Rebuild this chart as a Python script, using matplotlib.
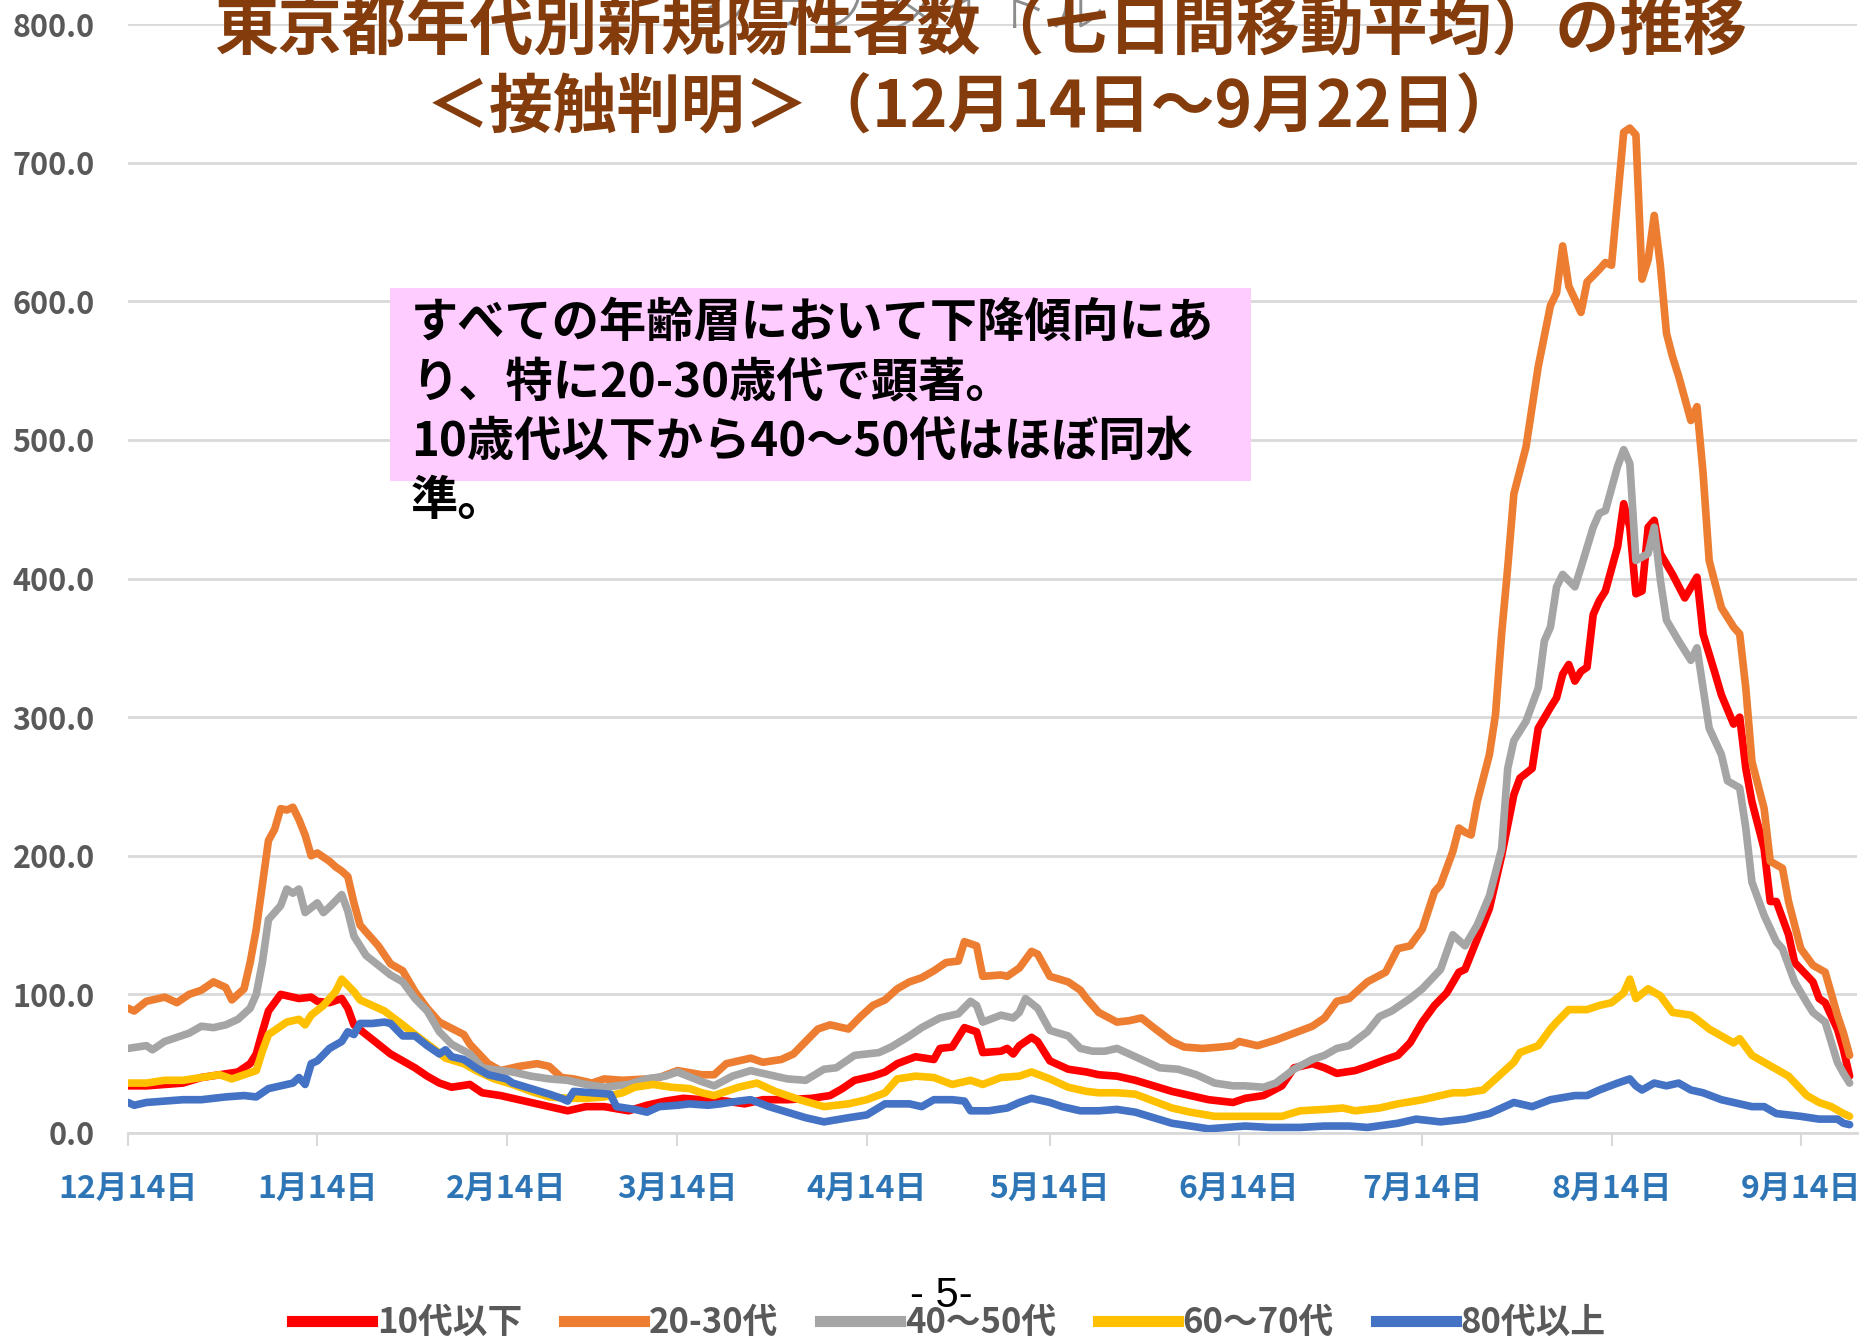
import matplotlib
matplotlib.use("Agg")
import matplotlib.pyplot as plt
from matplotlib.patches import Rectangle
from matplotlib.lines import Line2D
import pandas as pd

plt.rcParams["font.family"] = ["Noto Sans CJK JP", "DejaVu Sans"]

# days counted from 2020-12-14
start = pd.Timestamp("2020-12-14")

red_days = [0, 3, 6, 9, 12, 15, 18, 20, 21, 22, 23, 25, 27, 28, 30, 31, 33, 35, 36, 37, 39, 41, 43, 45, 47, 49,
            51, 53, 56, 58, 61, 63, 66, 69, 72, 75, 78, 82, 85, 88, 91, 94, 98, 101, 104, 108, 112, 115, 117, 119,
            122, 124, 126, 129, 132, 133, 135, 137, 139, 140, 143, 144, 145, 146, 148, 149, 151, 154, 157, 159,
            162, 165, 168, 171, 174, 177, 181, 183, 186, 189, 191, 194, 196, 198, 201, 203, 206, 208, 210, 212,
            214, 216, 218, 219, 221, 223, 225, 227, 228, 230, 231, 233, 234, 235, 236, 237, 238, 239, 240, 241,
            242, 244, 245, 246, 247, 248, 249, 250, 251, 253, 255, 257, 258, 260, 261, 263, 264, 265, 266, 268,
            269, 270, 272, 273, 276, 277, 278, 280, 281, 282]
red_vals = [34, 34, 35, 36, 40, 42, 44, 50, 57, 73, 88, 100, 98, 97, 98, 95, 94, 97, 90, 78, 71, 64, 57, 52, 47, 41,
            36, 33, 35, 29, 27, 25, 22, 19, 16, 19, 19, 16, 20, 23, 25, 24, 23, 21, 24, 24, 25, 27, 32, 38,
            41, 44, 50, 55, 53, 61, 62, 76, 73, 58, 59, 61, 57, 63, 69, 66, 52, 46, 44, 42,
            41, 38, 34, 30, 27, 24, 22, 25, 27, 34, 47, 50, 47, 43, 45, 48, 53, 56, 65, 80,
            92, 101, 116, 118, 140, 162, 200, 244, 256, 263, 292, 307, 314, 331, 338, 326, 333, 336, 374, 384,
            391, 423, 454, 437, 389, 391, 437, 442, 418, 403, 386, 401, 360, 331, 316, 295, 300, 263, 239, 205,
            167, 167, 143, 123, 109, 97, 94, 75, 60, 41]

orange_days = [0, 1, 3, 6, 8, 10, 12, 14, 16, 17, 19, 20, 21, 23, 24, 25, 26, 27, 28, 29, 30, 31, 33, 34, 35, 36,
               37, 38, 40, 41, 43, 45, 47, 49, 51, 55, 56, 59, 61, 64, 67, 69, 71, 73, 76, 78, 81, 85, 87, 90, 94,
               96, 98, 102, 104, 107, 109, 111, 113, 115, 118, 120, 122, 124, 126, 128, 130, 132, 134, 136, 137,
               139, 140, 143, 144, 146, 148, 149, 151, 154, 156, 157, 159, 162, 164, 166, 168, 171, 173, 176, 179,
               181, 182, 185, 188, 191, 194, 196, 198, 200, 203, 206, 208, 210, 212, 214, 215, 217, 218, 219, 220,
               221, 223, 224, 225, 226, 227, 229, 231, 233, 234, 235, 236, 238, 239, 241, 242, 243, 244, 245, 246,
               247, 248, 249, 250, 251, 252, 253, 254, 256, 257, 258, 259, 261, 263, 264, 265, 266, 268, 269, 271,
               272, 274, 276, 278, 280, 281, 282]
orange_vals = [90, 88, 95, 98, 94, 100, 103, 109, 105, 96, 104, 123, 147, 211, 219, 234, 233, 235, 226, 215, 200,
               202, 196, 192, 189, 185, 166, 150, 140, 135, 122, 117, 102, 90, 80, 71, 64, 50, 45, 48, 50, 48, 40,
               39, 36, 39, 38, 39, 40, 45, 42, 42, 50, 54, 51, 53, 57, 66, 75, 78, 75, 84, 92, 96, 104, 109, 112,
               117, 123, 124, 138, 135, 113, 114, 113, 119, 131, 129, 113, 109, 103, 97, 87, 80, 81, 83, 76, 66,
               62, 61, 62, 63, 66, 63, 67, 72, 77, 83, 95, 97, 109, 116, 133, 135, 147, 174, 179, 203, 220, 217,
               215, 239, 273, 302, 360, 408, 461, 495, 553, 597, 606, 640, 611, 592, 614, 623, 628, 626, 674, 722,
               725, 720, 616, 630, 662, 626, 577, 560, 546, 514, 524, 476, 413, 379, 365, 360, 321, 268, 234, 196,
               191, 167, 133, 121, 116, 85, 72, 56]

gray_days = [0, 3, 4, 6, 10, 12, 14, 16, 18, 20, 21, 22, 23, 25, 26, 27, 28, 29, 31, 32, 33, 35, 36, 37, 39, 41,
             43, 45, 47, 49, 51, 53, 56, 58, 61, 63, 66, 69, 72, 75, 78, 82, 85, 88, 90, 94, 96, 99, 102, 105, 108,
             111, 114, 116, 119, 123, 125, 128, 130, 133, 136, 138, 139, 140, 143, 145, 146, 147, 149, 151, 154,
             156, 158, 160, 162, 164, 167, 169, 172, 175, 178, 181, 183, 186, 188, 191, 194, 196, 198, 200, 203,
             205, 207, 210, 212, 215, 217, 219, 221, 223, 225, 226, 227, 229, 231, 232, 233, 234, 235, 237, 238,
             240, 241, 242, 244, 245, 246, 247, 249, 250, 251, 252, 254, 256, 257, 258, 259, 261, 262, 264, 265,
             266, 268, 270, 271, 273, 275, 276, 278, 280, 281, 282]
gray_vals = [61, 63, 60, 66, 72, 77, 76, 78, 82, 90, 100, 123, 154, 164, 176, 173, 176, 159, 166, 159, 163, 172,
             160, 142, 128, 121, 114, 109, 97, 88, 73, 64, 57, 47, 45, 44, 41, 39, 38, 35, 33, 35, 39, 41, 44, 37,
             34, 41, 45, 42, 39, 38, 46, 47, 56, 58, 62, 70, 76, 83, 86, 95, 92, 80, 85, 83, 87, 97, 90, 74, 70,
             61, 59, 59, 61, 57, 51, 47, 46, 42, 36, 34, 34, 33, 36, 46, 53, 56, 61, 63, 73, 84, 88, 97, 104, 118,
             143, 135, 150, 171, 205, 263, 283, 297, 321, 355, 365, 394, 403, 394, 408, 437, 447, 449, 481, 493,
             483, 413, 418, 437, 399, 370, 355, 341, 350, 321, 292, 273, 254, 249, 220, 181, 157, 138, 133, 109,
             94, 87, 80, 51, 43, 36]

yellow_days = [0, 3, 6, 9, 12, 15, 17, 19, 21, 22, 23, 25, 26, 28, 29, 30, 32, 34, 35, 37, 38, 40, 42, 45, 47, 50,
               52, 55, 57, 60, 63, 66, 69, 72, 75, 78, 81, 83, 86, 89, 92, 94, 96, 100, 103, 106, 110, 114, 118,
               121, 124, 126, 129, 132, 135, 138, 140, 143, 146, 148, 151, 154, 157, 159, 162, 165, 168, 171, 174,
               178, 181, 185, 189, 192, 196, 199, 201, 205, 208, 212, 217, 219, 222, 224, 227, 228, 231, 233, 234,
               236, 239, 241, 243, 245, 246, 247, 249, 251, 253, 256, 257, 259, 261, 263, 264, 266, 268, 270, 272,
               275, 277, 279, 281, 282]
yellow_vals = [36, 36, 38, 38, 40, 42, 39, 42, 45, 59, 71, 77, 80, 82, 78, 85, 92, 102, 111, 102, 96, 92, 88, 78,
               71, 61, 54, 50, 45, 39, 35, 30, 26, 25, 25, 26, 29, 33, 35, 33, 32, 29, 27, 33, 36, 30, 24, 19, 21,
               24, 29, 39, 41, 40, 35, 38, 35, 40, 41, 44, 39, 33, 30, 29, 29, 28, 23, 18, 15, 12, 12, 12, 12, 16,
               17, 18, 16, 18, 21, 24, 29, 29, 31, 39, 51, 58, 63, 75, 80, 89, 89, 92, 94, 101, 111, 97, 104, 99,
               87, 85, 82, 75, 70, 65, 68, 56, 51, 46, 41, 27, 22, 19, 14, 12]

blue_days = [0, 1, 3, 6, 9, 12, 16, 19, 21, 23, 25, 27, 28, 29, 30, 31, 33, 35, 36, 37, 38, 40, 42, 43, 45, 47, 49,
             51, 52, 53, 55, 57, 59, 62, 63, 66, 69, 71, 72, 73, 76, 79, 80, 83, 85, 87, 90, 92, 95, 97, 100, 102,
             105, 108, 111, 114, 118, 121, 124, 128, 130, 132, 135, 137, 138, 141, 144, 146, 148, 151, 153, 156,
             159, 162, 165, 168, 171, 174, 177, 180, 183, 187, 192, 196, 200, 203, 208, 211, 215, 219, 223, 227,
             230, 233, 237, 239, 241, 244, 246, 247, 248, 250, 252, 254, 256, 258, 261, 263, 266, 268, 270, 274,
             277, 280, 281, 282]
blue_vals = [22, 20, 22, 23, 24, 24, 26, 27, 26, 32, 34, 36, 40, 35, 50, 52, 61, 66, 73, 71, 79, 79, 80, 79, 70, 70,
             63, 57, 60, 55, 53, 47, 42, 39, 36, 32, 28, 25, 23, 30, 29, 28, 19, 17, 15, 19, 20, 21, 20, 21, 23,
             24, 19, 15, 11, 8, 11, 13, 21, 21, 19, 24, 24, 23, 16, 16, 18, 22, 25, 22, 19, 16, 16, 17, 15, 11, 7,
             5, 3, 4, 5, 4, 4, 5, 5, 4, 7, 10, 8, 10, 14, 22, 19, 24, 27, 27, 31, 36, 39, 34, 31, 36, 34, 36, 31,
             29, 24, 22, 19, 19, 14, 12, 10, 10, 7, 6]

series = [
    ("10代以下", red_days, red_vals, "#FF0000"),
    ("20-30代", orange_days, orange_vals, "#ED7D31"),
    ("40～50代", gray_days, gray_vals, "#A5A5A5"),
    ("60～70代", yellow_days, yellow_vals, "#FFC000"),
    ("80代以上", blue_days, blue_vals, "#4472C4"),
]

tick_dates = pd.to_datetime(["2020-12-14", "2021-01-14", "2021-02-14", "2021-03-14", "2021-04-14",
                             "2021-05-14", "2021-06-14", "2021-07-14", "2021-08-14", "2021-09-14"])
tick_labels = [f"{d.month}月{d.day}日" for d in tick_dates]

fig = plt.figure(figsize=(18.64, 13.40), dpi=100)
ax = fig.add_axes([0.0687, 0.1545, 0.9275, 0.8275])

for name, days, vals, color in series:
    dates = start + pd.to_timedelta(days, unit="D")
    ax.plot(dates, vals, color=color, lw=5.5, solid_joinstyle="round", solid_capstyle="round", label=name)

ax.set_ylim(0, 800)
ax.set_yticks(range(0, 801, 100))
ax.set_yticklabels([f"{v:.1f}" for v in range(0, 801, 100)])
ax.set_xlim(start, start + pd.Timedelta(days=283.2))
ax.set_xticks(tick_dates)
ax.set_xticklabels(tick_labels)

ax.grid(True, axis="y", color="#D9D9D9", lw=2)
ax.set_axisbelow(True)
for s in ["top", "right", "left"]:
    ax.spines[s].set_visible(False)
ax.spines["bottom"].set_color("#D9D9D9")
ax.spines["bottom"].set_linewidth(2)
ax.tick_params(axis="y", length=0, pad=24, labelsize=22, labelcolor="#595959")
ax.tick_params(axis="x", length=9, width=1.5, color="#D9D9D9", pad=20, labelsize=23, labelcolor="#2E75B6")
for t in ax.get_xticklabels() + ax.get_yticklabels():
    t.set_fontweight("bold")

# placeholder title left behind the real one
fig.text(0.485, 0.992, "グラフ タイトル", fontsize=40, color="#8C8C8C", ha="center", va="center",
         fontweight="light", zorder=2)
fig.text(0.526, 0.977, "東京都年代別新規陽性者数（七日間移動平均）の推移", fontsize=46, fontweight="bold",
         color="#843C0C", ha="center", va="center", zorder=4)
fig.text(0.522, 0.919, "＜接触判明＞（12月14日～9月22日）", fontsize=46, fontweight="bold",
         color="#843C0C", ha="center", va="center", zorder=4)

fig.patches.append(Rectangle((0.2092, 0.641), 0.462, 0.144, transform=fig.transFigure,
                             facecolor="#FFCCFF", edgecolor="none", zorder=3))
note = ["すべての年齢層において下降傾向にあ", "り、特に20-30歳代で顕著。",
        "10歳代以下から40～50代はほぼ同水", "準。"]
for i, line in enumerate(note):
    fig.text(0.2205, 0.759 - i * 0.0442, line, fontsize=34, fontweight="bold", color="black",
             ha="left", va="center", zorder=5)

fig.text(0.505, 0.033, "- 5-", fontsize=30, family="Liberation Sans", ha="center", va="center")

handles = [Line2D([], [], color=c, lw=8) for _, _, _, c in series]
leg = fig.legend(handles, [n for n, _, _, _ in series], loc="center", bbox_to_anchor=(0.509, 0.013),
                 ncol=5, frameon=False, handlelength=2.3, handletextpad=0.15, columnspacing=1.2,
                 prop={"size": 25, "weight": "bold"})
for t in leg.get_texts():
    t.set_color("#595959")

fig.savefig("out.png", dpi=100)
